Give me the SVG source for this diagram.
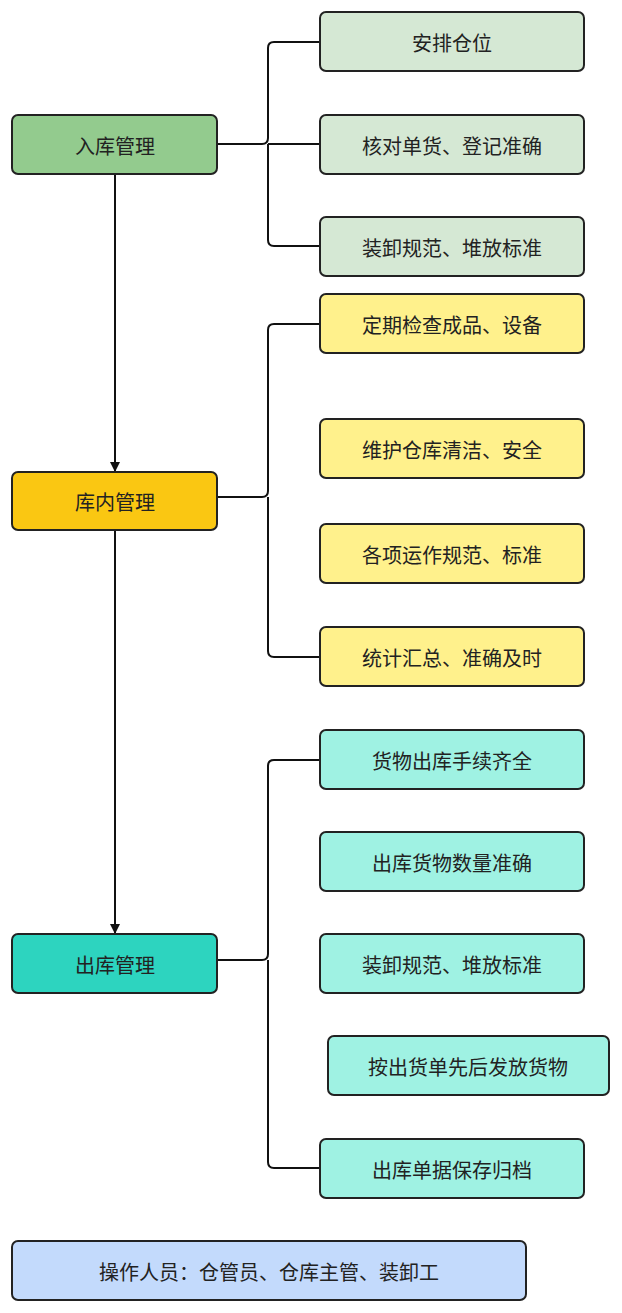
<svg xmlns="http://www.w3.org/2000/svg" width="622" height="1313" viewBox="0 0 622 1313">
<style>
rect{stroke:#222;stroke-width:2;rx:6}
text{font-family:"Noto Sans CJK SC","Noto Sans",sans-serif;font-size:20px;fill:#222;text-anchor:middle;dominant-baseline:central}
.c{fill:none;stroke:#111;stroke-width:2}
.g1{fill:#93cb8e}.g2{fill:#d5e8d4}.y1{fill:#fac712}.y2{fill:#fff18c}.t1{fill:#2dd4bf}.t2{fill:#9ff2e3}.b{fill:#c3dafc}
</style>
<defs><marker id="a" markerWidth="10" markerHeight="10" refX="9" refY="5" orient="auto" markerUnits="userSpaceOnUse"><path d="M0,0L10,5L0,10z" fill="#111"/></marker></defs>
<rect width="622" height="1313" fill="#fff" style="stroke:none"/>
<g id="connectors">
<path class="c" d="M115,175V471" marker-end="url(#a)"/>
<path class="c" d="M115,531V933" marker-end="url(#a)"/>
<path class="c" d="M218,144H262Q268,144 268,138V48Q268,42 274,42H320M268,144V240Q268,246 274,246H320M268,144H320"/>
<path class="c" d="M218,497H262Q268,497 268,491V330Q268,324 274,324H320M268,497V651Q268,657 274,657H320"/>
<path class="c" d="M218,960H262Q268,960 268,954V766Q268,760 274,760H320M268,960V1162Q268,1168 274,1168H320"/>
</g>
<g id="n1"><rect class="g1" x="12" y="115" width="205" height="59"/><text x="115" y="145">入库管理</text></g>
<g id="n2"><rect class="y1" x="12" y="472" width="205" height="58"/><text x="115" y="501">库内管理</text></g>
<g id="n3"><rect class="t1" x="12" y="934" width="205" height="59"/><text x="115" y="964">出库管理</text></g>
<g id="n4"><rect class="b" x="12" y="1241" width="514" height="59"/><text x="269" y="1271">操作人员：仓管员、仓库主管、装卸工</text></g>
<g id="r1"><rect class="g2" x="320" y="12" width="264" height="59"/><text x="452" y="42">安排仓位</text></g>
<g id="r2"><rect class="g2" x="320" y="115" width="264" height="59"/><text x="452" y="145">核对单货、登记准确</text></g>
<g id="r3"><rect class="g2" x="320" y="217" width="264" height="59"/><text x="452" y="247">装卸规范、堆放标准</text></g>
<g id="r4"><rect class="y2" x="320" y="294" width="264" height="59"/><text x="452" y="324">定期检查成品、设备</text></g>
<g id="r5"><rect class="y2" x="320" y="419" width="264" height="59"/><text x="452" y="449">维护仓库清洁、安全</text></g>
<g id="r6"><rect class="y2" x="320" y="524" width="264" height="59"/><text x="452" y="554">各项运作规范、标准</text></g>
<g id="r7"><rect class="y2" x="320" y="627" width="264" height="59"/><text x="452" y="657">统计汇总、准确及时</text></g>
<g id="r8"><rect class="t2" x="320" y="730" width="264" height="59"/><text x="452" y="760">货物出库手续齐全</text></g>
<g id="r9"><rect class="t2" x="320" y="832" width="264" height="59"/><text x="452" y="862">出库货物数量准确</text></g>
<g id="r10"><rect class="t2" x="320" y="934" width="264" height="59"/><text x="452" y="964">装卸规范、堆放标准</text></g>
<g id="r11"><rect class="t2" x="328" y="1036" width="281" height="59"/><text x="468" y="1066">按出货单先后发放货物</text></g>
<g id="r12"><rect class="t2" x="320" y="1139" width="264" height="59"/><text x="452" y="1169">出库单据保存归档</text></g>
</svg>
